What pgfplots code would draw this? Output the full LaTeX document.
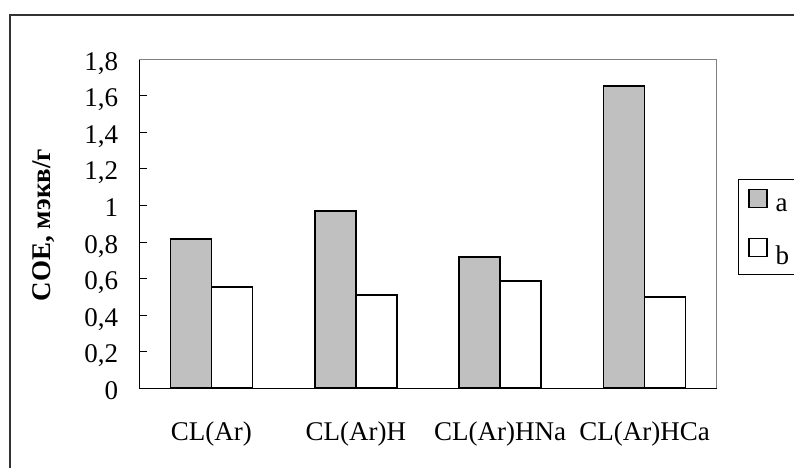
\documentclass[border=0pt]{standalone}
\usepackage{fontspec}
\setmainfont{Liberation Serif}
\usepackage{pgfplots}
\pgfplotsset{compat=1.18}
\definecolor{bargray}{RGB}{192,192,192}
\definecolor{framegray}{RGB}{128,128,128}
\newcommand{\lblfont}{\fontsize{27}{32}\selectfont}
\begin{document}
\begin{tikzpicture}
\path[use as bounding box] (0pt,0pt) rectangle (794pt,-467pt);
\clip (0pt,0pt) rectangle (794pt,-467pt);
\draw[line width=1.3pt, black!80] (10pt,-15pt) rectangle (900pt,-600pt);
\begin{axis}[
  at={(139.3pt,-388.3pt)}, anchor=south west,
  scale only axis, width=577.4pt, height=329pt,
  xmin=-0.5, xmax=3.5, ymin=0, ymax=1.8,
  ybar=0pt, bar width=41pt,
  axis x line*=bottom, axis y line*=left,
  axis line style={line width=1.5pt, black},
  xtick={0,1,2,3},
  xticklabels={CL(Ar),CL(Ar)H,CL(Ar)HNa,CL(Ar)HCa},
  x tick style={draw=none},
  ytick={0,0.2,0.4,0.6,0.8,1,1.2,1.4,1.6,1.8},
  y tick style={line width=1pt, black},
  tick align=inside, major tick length=8pt,
  yticklabel style={font=\lblfont, anchor=base east, inner sep=0pt, xshift=-21pt, yshift=-11pt,
    /pgf/number format/.cd, use comma, fixed, assume math mode=true},
  xticklabel style={font=\lblfont, anchor=base, inner sep=0pt, yshift=-51.7pt},
  legend style={at={(1.0374,0.6353)}, anchor=north west, draw=black, line width=0.8pt,
    font=\lblfont, inner xsep=9.4pt, inner ysep=9pt,
    nodes={inner sep=0pt}, row sep=24.6pt, column sep=8pt},
  legend cell align=left,
  clip=false,
]
\draw[framegray, line width=1pt] (rel axis cs:0,1) -- (rel axis cs:1,1) -- (rel axis cs:1,0);
\addplot[fill=bargray, draw=black, line width=1.8pt,
  legend image code/.code={\draw[fill=bargray, draw=black, line width=1.4pt] (0pt,-1pt) rectangle (18pt,17pt);}]
  coordinates {(0,0.815) (1,0.970) (2,0.718) (3,1.655)};
\addplot[fill=white, draw=black, line width=1.8pt,
  legend image code/.code={\draw[fill=white, draw=black, line width=1.4pt] (0pt,-1pt) rectangle (18pt,17pt);}]
  coordinates {(0,0.556) (1,0.510) (2,0.589) (3,0.501)};
\legend{a\hspace*{40pt},b\hspace*{40pt}}
\end{axis}
\node[rotate=90, font=\bfseries\fontsize{27}{32}\selectfont] at (44pt,-225pt) {СОЕ, мэкв/г};
\end{tikzpicture}
\end{document}
